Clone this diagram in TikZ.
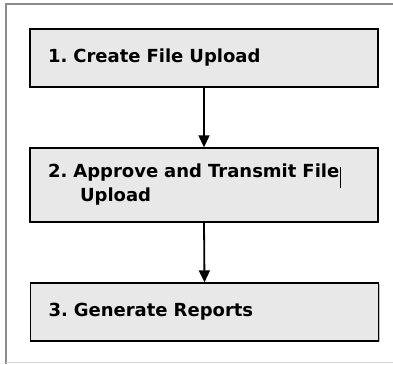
\documentclass[tikz,border=0pt]{standalone}
\usepackage{fontspec}
\setmainfont{DejaVu Sans}
\usepackage{tikz}
\usetikzlibrary{arrows.meta,positioning,shadows}
\definecolor{frameedge}{HTML}{8A8A8A}
\definecolor{framelow}{HTML}{D4D4D4}
\definecolor{stepfill}{HTML}{E8E8E8}
\frenchspacing
\tikzset{
  stepbox/.style={draw=black,fill=stepfill,line width=1.4pt,
                  minimum width=348pt,text width=312pt,align=left,
                  inner sep=0pt,font=\fontsize{18}{24}\selectfont\bfseries,
                  drop shadow={shadow xshift=1pt,shadow yshift=-1pt,
                               opacity=0.5,fill=gray}},
  flowarr/.style={-{Triangle[length=12pt,width=11pt]},line width=1.8pt,
                  draw=black}
}
\begin{document}
\begin{tikzpicture}[x=1pt,y=-1pt]
    \path[use as bounding box] (0,0) rectangle (393,364);

    % outer frame
    \draw[frameedge,line width=2.5pt] (393,4) -- (6,4) -- (6,364);
    \draw[framelow,line width=1.2pt] (6,362.5) -- (393,362.5);

    \node[stepbox,minimum height=58pt] (create) at (204,58)
      {1. Create File Upload};
    \node[stepbox,minimum height=74pt] (approve) at (204,185)
      {2. Approve and Transmit File\\\hspace*{32pt}Upload};
    \node[stepbox,minimum height=58pt] (reports) at (204.5,312)
      {3. Generate Reports};

    % text cursor
    \coordinate (cursortop) at (340,167);
    \coordinate (cursorbot) at (340,188);
    \draw[black,line width=0.8pt] (cursortop) -- (cursorbot);

    \draw[flowarr] (create.south) -- (approve.north);
    \draw[flowarr] (approve.south) -- (reports.north);
  \end{tikzpicture}
\end{document}
